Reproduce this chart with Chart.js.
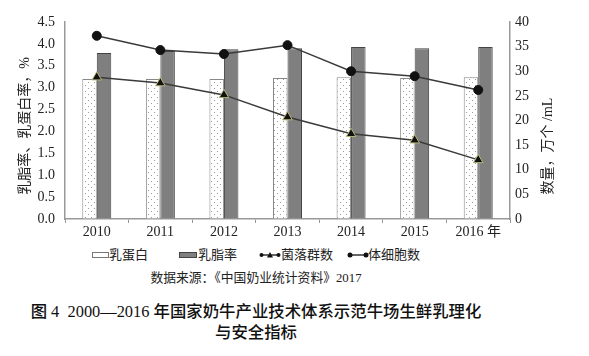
<!DOCTYPE html>
<html>
<head>
<meta charset="utf-8">
<script src="https://cdn.jsdelivr.net/npm/chart.js@4/dist/chart.umd.min.js"></script>
<style>
html,body{margin:0;padding:0;background:#fff;}
#wrap{position:relative;width:589px;height:356px;overflow:hidden;background:#fff;}
canvas{position:absolute;left:0;top:0;}
.t{position:absolute;white-space:nowrap;color:#222;font-family:"Liberation Serif","Noto Sans CJK SC",serif;}
.lg{font-size:13px;line-height:16px;top:247px;}
.sw{position:absolute;top:251px;}
</style>
</head>
<body>
<div id="wrap">
<canvas id="c" width="589" height="245"></canvas>
<svg class="sw" style="left:92px" width="18" height="8"><rect x="0.5" y="1.5" width="16" height="5" fill="#fff" stroke="#777" stroke-width="1"/></svg>
<span class="t lg" style="left:109px">乳蛋白</span>
<svg class="sw" style="left:179px" width="19" height="8"><rect x="0.5" y="1.5" width="17" height="5" fill="#808080" stroke="#444" stroke-width="1"/></svg>
<span class="t lg" style="left:198px">乳脂率</span>
<svg class="sw" style="left:259px" width="22" height="8"><line x1="2" y1="4" x2="20" y2="4" stroke="#333" stroke-width="1.5"/><circle cx="2.5" cy="4" r="2" fill="#111"/><circle cx="19.5" cy="4" r="2" fill="#111"/><polygon points="11,1 14,6.5 8,6.5" fill="#111"/></svg>
<span class="t lg" style="left:281px">菌落群数</span>
<svg class="sw" style="left:347px" width="22" height="8"><line x1="2" y1="4" x2="20" y2="4" stroke="#333" stroke-width="1.5"/><circle cx="3" cy="4" r="2.5" fill="#111"/><circle cx="19" cy="4" r="2.5" fill="#111"/></svg>
<span class="t lg" style="left:368px">体细胞数</span>
<div class="t" style="left:0;width:512px;text-align:center;top:270px;font-size:12.8px;line-height:16px;">数据来源：《中国奶业统计资料》2017</div>
<div class="t" style="left:0;width:512px;text-align:center;top:301px;font-size:16.4px;line-height:21px;font-weight:500;color:#111;">图 4&nbsp; 2000—2016 年国家奶牛产业技术体系示范牛场生鲜乳理化<br>与安全指标</div>
</div>
<script>
const years = ['2010', '2011', '2012', '2013', '2014', '2015', '2016 年'];
const protein = [3.20, 3.20, 3.20, 3.22, 3.24, 3.22, 3.24];
const fat = [3.79, 3.84, 3.88, 3.90, 3.93, 3.90, 3.93];
const bacteria = [28.8, 27.6, 25.2, 20.7, 17.3, 16.0, 12.0];
const somaticCells = [37.2, 34.3, 33.5, 35.3, 30.0, 29.0, 26.2];
const leftTicks = ['0.0','0.5','1.0','1.5','2.0','2.5','3.0','3.5','4.0','4.5'];
const rightTicks = ['0','05','10','15','20','25','30','35','40'];
const leftTitle = '乳脂率、乳蛋白率，%';
const rightTitle = '数量，万个 /mL';

// dotted pattern for protein bars
const pc = document.createElement('canvas');
pc.width = 6; pc.height = 6;
const px = pc.getContext('2d');
px.fillStyle = '#fff'; px.fillRect(0,0,6,6);
px.fillStyle = '#9a9a9a';
px.fillRect(1,1,1,1); px.fillRect(4,4,1,1);
const ctx = document.getElementById('c').getContext('2d');
const dotPattern = ctx.createPattern(pc, 'repeat');

const serif = '"Liberation Serif", "Noto Sans CJK SC", serif';

const titlePlugin = {
  id: 'axisTitles',
  afterDraw(chart) {
    const c = chart.ctx;
    c.save();
    c.fillStyle = '#222';
    c.font = '14px ' + serif;
    c.textAlign = 'center';
    c.textBaseline = 'middle';
    c.translate(25, 126);
    c.rotate(-Math.PI/2);
    c.fillText(leftTitle, 0, 0);
    c.restore();
    c.save();
    c.fillStyle = '#222';
    c.font = '14px ' + serif;
    c.textAlign = 'center';
    c.textBaseline = 'middle';
    c.translate(548, 146);
    c.rotate(-Math.PI/2);
    c.fillText(rightTitle, 0, 0);
    c.restore();
  }
};

new Chart(ctx, {
  type: 'bar',
  data: {
    labels: years,
    datasets: [
      {type:'line', label:'菌落群数', data: bacteria, yAxisID:'y2', order:0,
       borderColor:'#3a3a3a', borderWidth:1.5, pointStyle:'triangle', pointRadius:5.5,
       pointBackgroundColor:'#111', pointBorderColor:'#b9b97a', pointBorderWidth:1, tension:0},
      {type:'line', label:'体细胞数', data: somaticCells, yAxisID:'y2', order:0,
       borderColor:'#3a3a3a', borderWidth:1.5, pointStyle:'circle', pointRadius:4.5,
       pointBackgroundColor:'#111', pointBorderColor:'#111', pointBorderWidth:1, tension:0},
      {label:'乳蛋白', data: protein, yAxisID:'y', order:1,
       backgroundColor: dotPattern, borderColor:'#888', borderWidth:1,
       categoryPercentage:0.456, barPercentage:1.0},
      {label:'乳脂率', data: fat, yAxisID:'y', order:1,
       backgroundColor:'#7f7f7f', borderColor:'#444', borderWidth:1,
       categoryPercentage:0.456, barPercentage:1.0}
    ]
  },
  options: {
    responsive:false, animation:false, devicePixelRatio:1,
    layout:{padding:{top:22,left:0,right:0,bottom:0}},
    plugins:{legend:{display:false}, tooltip:{enabled:false}},
    scales:{
      x:{
        grid:{offset:true, drawOnChartArea:false, drawTicks:true, tickLength:4, color:'#999'},
        border:{color:'#999', width:1.5},
        ticks:{font:{family:serif, size:14}, color:'#222', padding:1, maxRotation:0},
        afterFit(s){ s.height = 26; }
      },
      y:{
        position:'left', min:0, max:4.5,
        grid:{display:true, drawOnChartArea:false, drawTicks:false},
        border:{color:'#999', width:1.5},
        ticks:{stepSize:0.5, font:{family:serif, size:14}, color:'#222', padding:10,
               callback:(v,i)=>leftTicks[i]},
        afterFit(s){ s.width = 65; }
      },
      y2:{
        position:'right', min:0, max:40,
        grid:{display:true, drawOnChartArea:false, drawTicks:false},
        border:{color:'#999', width:1.5},
        ticks:{stepSize:5, font:{family:serif, size:14}, color:'#222', padding:5,
               callback:(v,i)=>rightTicks[i]},
        afterFit(s){ s.width = 79; }
      }
    }
  },
  plugins:[titlePlugin]
});
</script>
</body>
</html>
